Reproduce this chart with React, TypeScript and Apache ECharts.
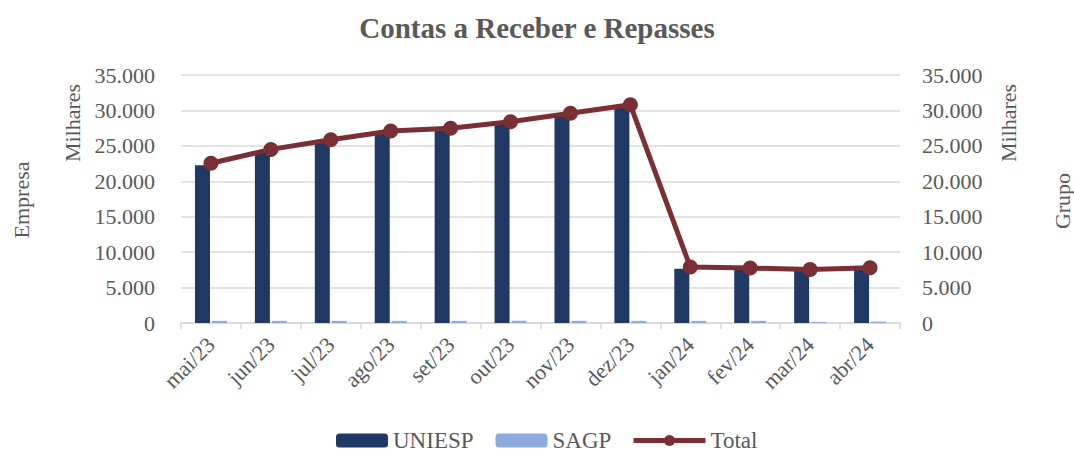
import React, { useEffect, useRef } from "react";
import * as echarts from "echarts";

const categories = ["mai/23", "jun/23", "jul/23", "ago/23", "set/23", "out/23", "nov/23", "dez/23", "jan/24", "fev/24", "mar/24", "abr/24"];
const uniesp = [22250, 24200, 25550, 26800, 27200, 28100, 29300, 30500, 7650, 7500, 7400, 7600];
const sagp = [300, 300, 300, 300, 300, 300, 300, 300, 300, 300, 150, 200];
const total = [22550, 24500, 25850, 27100, 27500, 28400, 29600, 30800, 7900, 7750, 7550, 7800];
const yTicks = { min: 0, max: 35000, interval: 5000 };

const FONT = "Liberation Serif";
const TXT = "#595959";

const fmt = (v: number) => String(v).replace(/\B(?=(\d{3})+(?!\d))/g, ".");

export default function App() {
  const ref = useRef<HTMLDivElement>(null);
  useEffect(() => {
    if (!ref.current) return;
    const chart = echarts.init(ref.current, undefined, { renderer: "svg" });
    const axisText = { color: TXT, fontFamily: FONT, fontSize: 22 };
    chart.setOption({
      animation: false,
      backgroundColor: "#ffffff",
      textStyle: { fontFamily: FONT },
      title: {
        text: "Contas a Receber e Repasses",
        left: "center",
        top: 8,
        textStyle: { color: TXT, fontFamily: FONT, fontSize: 29, fontWeight: "bold" },
      },
      grid: { left: 181, right: 174, top: 75, bottom: 130 },
      legend: [
        {
          data: ["UNIESP", "SAGP"],
          left: 336,
          top: 429,
          padding: 0,
          itemWidth: 52,
          itemHeight: 14,
          itemGap: 22,
          textStyle: { color: TXT, fontFamily: FONT, fontSize: 23 },
        },
        {
          data: ["Total"],
          left: 631,
          top: 429,
          padding: 0,
          itemWidth: 72,
          itemHeight: 14,
          lineStyle: { width: 5 },
          textStyle: { color: TXT, fontFamily: FONT, fontSize: 23 },
        },
      ],
      xAxis: {
        type: "category",
        data: categories,
        boundaryGap: true,
        axisLine: { lineStyle: { color: "#d9d9d9", width: 1.5 } },
        axisTick: { show: true, length: 6, lineStyle: { color: "#d9d9d9", width: 1.5 } },
        axisLabel: { ...axisText, rotate: 45, margin: 18, interval: 0 },
      },
      yAxis: [
        {
          type: "value",
          ...yTicks,
          axisLine: { show: false },
          axisTick: { show: false },
          splitLine: { lineStyle: { color: "#d9d9d9", width: 1.5 } },
          axisLabel: { ...axisText, margin: 26, formatter: (v: number) => fmt(v) },
        },
        {
          type: "value",
          ...yTicks,
          position: "right",
          axisLine: { show: false },
          axisTick: { show: false },
          splitLine: { show: false },
          axisLabel: { ...axisText, margin: 22, formatter: (v: number) => fmt(v) },
        },
      ],
      graphic: [
        { type: "text", x: 72, y: 123, rotation: Math.PI / 2, style: { text: "Milhares", fill: TXT, font: `22px "${FONT}"`, textAlign: "center", textVerticalAlign: "middle" } },
        { type: "text", x: 21, y: 200, rotation: Math.PI / 2, style: { text: "Empresa", fill: TXT, font: `22px "${FONT}"`, textAlign: "center", textVerticalAlign: "middle" } },
        { type: "text", x: 1008, y: 123, rotation: Math.PI / 2, style: { text: "Milhares", fill: TXT, font: `22px "${FONT}"`, textAlign: "center", textVerticalAlign: "middle" } },
        { type: "text", x: 1062, y: 201, rotation: Math.PI / 2, style: { text: "Grupo", fill: TXT, font: `22px "${FONT}"`, textAlign: "center", textVerticalAlign: "middle" } },
      ],
      series: [
        {
          name: "UNIESP",
          type: "bar",
          data: uniesp,
          barWidth: 15,
          barGap: "13%",
          itemStyle: { color: "#203864" },
        },
        {
          name: "SAGP",
          type: "bar",
          data: sagp,
          barWidth: 15,
          itemStyle: { color: "#8faadc" },
        },
        {
          name: "Total",
          type: "line",
          yAxisIndex: 1,
          data: total,
          symbol: "circle",
          symbolSize: 15,
          lineStyle: { color: "#7a2f34", width: 5 },
          itemStyle: { color: "#7a2f34" },
        },
      ],
    });
    return () => chart.dispose();
  }, []);
  return <div ref={ref} style={{ position: "fixed", left: 0, top: 0, width: 1074, height: 453 }} />;
}
